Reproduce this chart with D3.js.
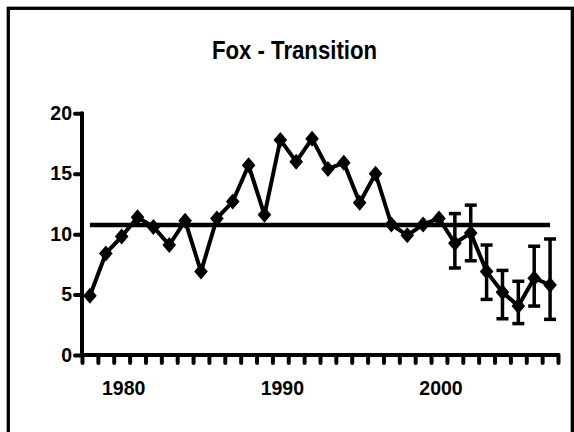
<!DOCTYPE html>
<html><head><meta charset="utf-8">
<script src="https://cdn.jsdelivr.net/npm/d3@7"></script>
<style>html,body{margin:0;padding:0;background:#fff;}svg{display:block;}</style>
</head><body>
<script>
const years = d3.range(1978, 2008);
const values = [4.9, 8.4, 9.8, 11.4, 10.6, 9.1, 11.1, 6.9, 11.3, 12.7, 15.7, 11.6, 17.8, 16.0, 17.9, 15.4, 15.9, 12.6, 15.0, 10.8, 9.9, 10.8, 11.3, 9.25, 10.1, 6.9, 5.2, 4.05, 6.35, 5.8];
const errYears = [2001, 2002, 2003, 2004, 2005, 2006, 2007];
const errLow = [7.2, 7.8, 4.6, 3.0, 2.6, 4.05, 2.95];
const errHigh = [11.7, 12.4, 9.1, 7.0, 6.1, 9.0, 9.6];
const meanValue = 10.76;
const yTicks = [0, 5, 10, 15, 20];
const xLabels = [1980, 1990, 2000];
const title = "Fox - Transition";

const W = 574, H = 432;
const svg = d3.select("body").append("svg").attr("width", W).attr("height", H);
svg.append("rect").attr("x", 8.3).attr("y", 8.3).attr("width", 564).attr("height", 600)
  .attr("fill", "none").attr("stroke", "#000").attr("stroke-width", 3.3);

const x = d3.scaleLinear().domain([1977.5, 2007.5]).range([82, 558]);
const y = d3.scaleLinear().domain([0, 20]).range([355, 113.3]);

svg.append("text").attr("x", 212).attr("y", 59).attr("textLength", 165).attr("lengthAdjust", "spacingAndGlyphs")
  .attr("font-family", "Liberation Sans, Arial, sans-serif").attr("font-weight", "bold").attr("font-size", 25)
  .text(title);

// Y axis
const yAxis = svg.append("g").attr("transform", `translate(${x(1977.5)},0)`)
  .call(d3.axisLeft(y).tickValues(yTicks).tickSize(7).tickPadding(3).tickFormat(d3.format("d")));
yAxis.select(".domain").remove();
yAxis.append("line").attr("x1", 0).attr("x2", 0).attr("y1", y(20)).attr("y2", y(0));
yAxis.selectAll("line").attr("stroke", "#000").attr("stroke-width", 4).attr("stroke-linecap", "round");
yAxis.selectAll("text").attr("font-family", "Liberation Sans, Arial, sans-serif").attr("font-weight", "bold").attr("font-size", 19.5).attr("fill", "#000");

// X axis
const xAxis = svg.append("g").attr("transform", `translate(0,${y(0)})`)
  .call(d3.axisBottom(x).tickValues(d3.range(1977.5, 2008, 1)).tickSize(8).tickFormat(""));
xAxis.select(".domain").remove();
xAxis.append("line").attr("x1", x(1977.5)).attr("x2", x(2007.5)).attr("y1", 0).attr("y2", 0);
xAxis.selectAll("line").attr("stroke", "#000").attr("stroke-width", 4).attr("stroke-linecap", "round");
svg.append("g").selectAll("text").data(xLabels).join("text")
  .attr("x", d => x(d) + 2).attr("y", 395).attr("text-anchor", "middle")
  .attr("font-family", "Liberation Sans, Arial, sans-serif").attr("font-weight", "bold").attr("font-size", 19.5)
  .text(d => d);

// mean line
svg.append("line").attr("x1", x(1978)).attr("x2", x(2007)).attr("y1", y(meanValue)).attr("y2", y(meanValue))
  .attr("stroke", "#000").attr("stroke-width", 4.5);

// error bars
const eb = svg.append("g").attr("stroke", "#000").attr("stroke-width", 3.5);
errYears.forEach((yr, i) => {
  eb.append("line").attr("x1", x(yr)).attr("x2", x(yr)).attr("y1", y(errLow[i])).attr("y2", y(errHigh[i]));
  eb.append("line").attr("x1", x(yr) - 6).attr("x2", x(yr) + 6).attr("y1", y(errLow[i])).attr("y2", y(errLow[i]));
  eb.append("line").attr("x1", x(yr) - 6).attr("x2", x(yr) + 6).attr("y1", y(errHigh[i])).attr("y2", y(errHigh[i]));
});

// data line
svg.append("path").datum(years.map((yr, i) => [yr, values[i]]))
  .attr("d", d3.line().x(d => x(d[0])).y(d => y(d[1])))
  .attr("fill", "none").attr("stroke", "#000").attr("stroke-width", 4).attr("stroke-linejoin", "round");

// diamonds
svg.append("g").selectAll("path").data(years.map((yr, i) => [yr, values[i]])).join("path")
  .attr("transform", d => `translate(${x(d[0])},${y(d[1])})`)
  .attr("d", "M0,-8L6.8,0L0,8L-6.8,0Z").attr("fill", "#000");
</script>
</body></html>
